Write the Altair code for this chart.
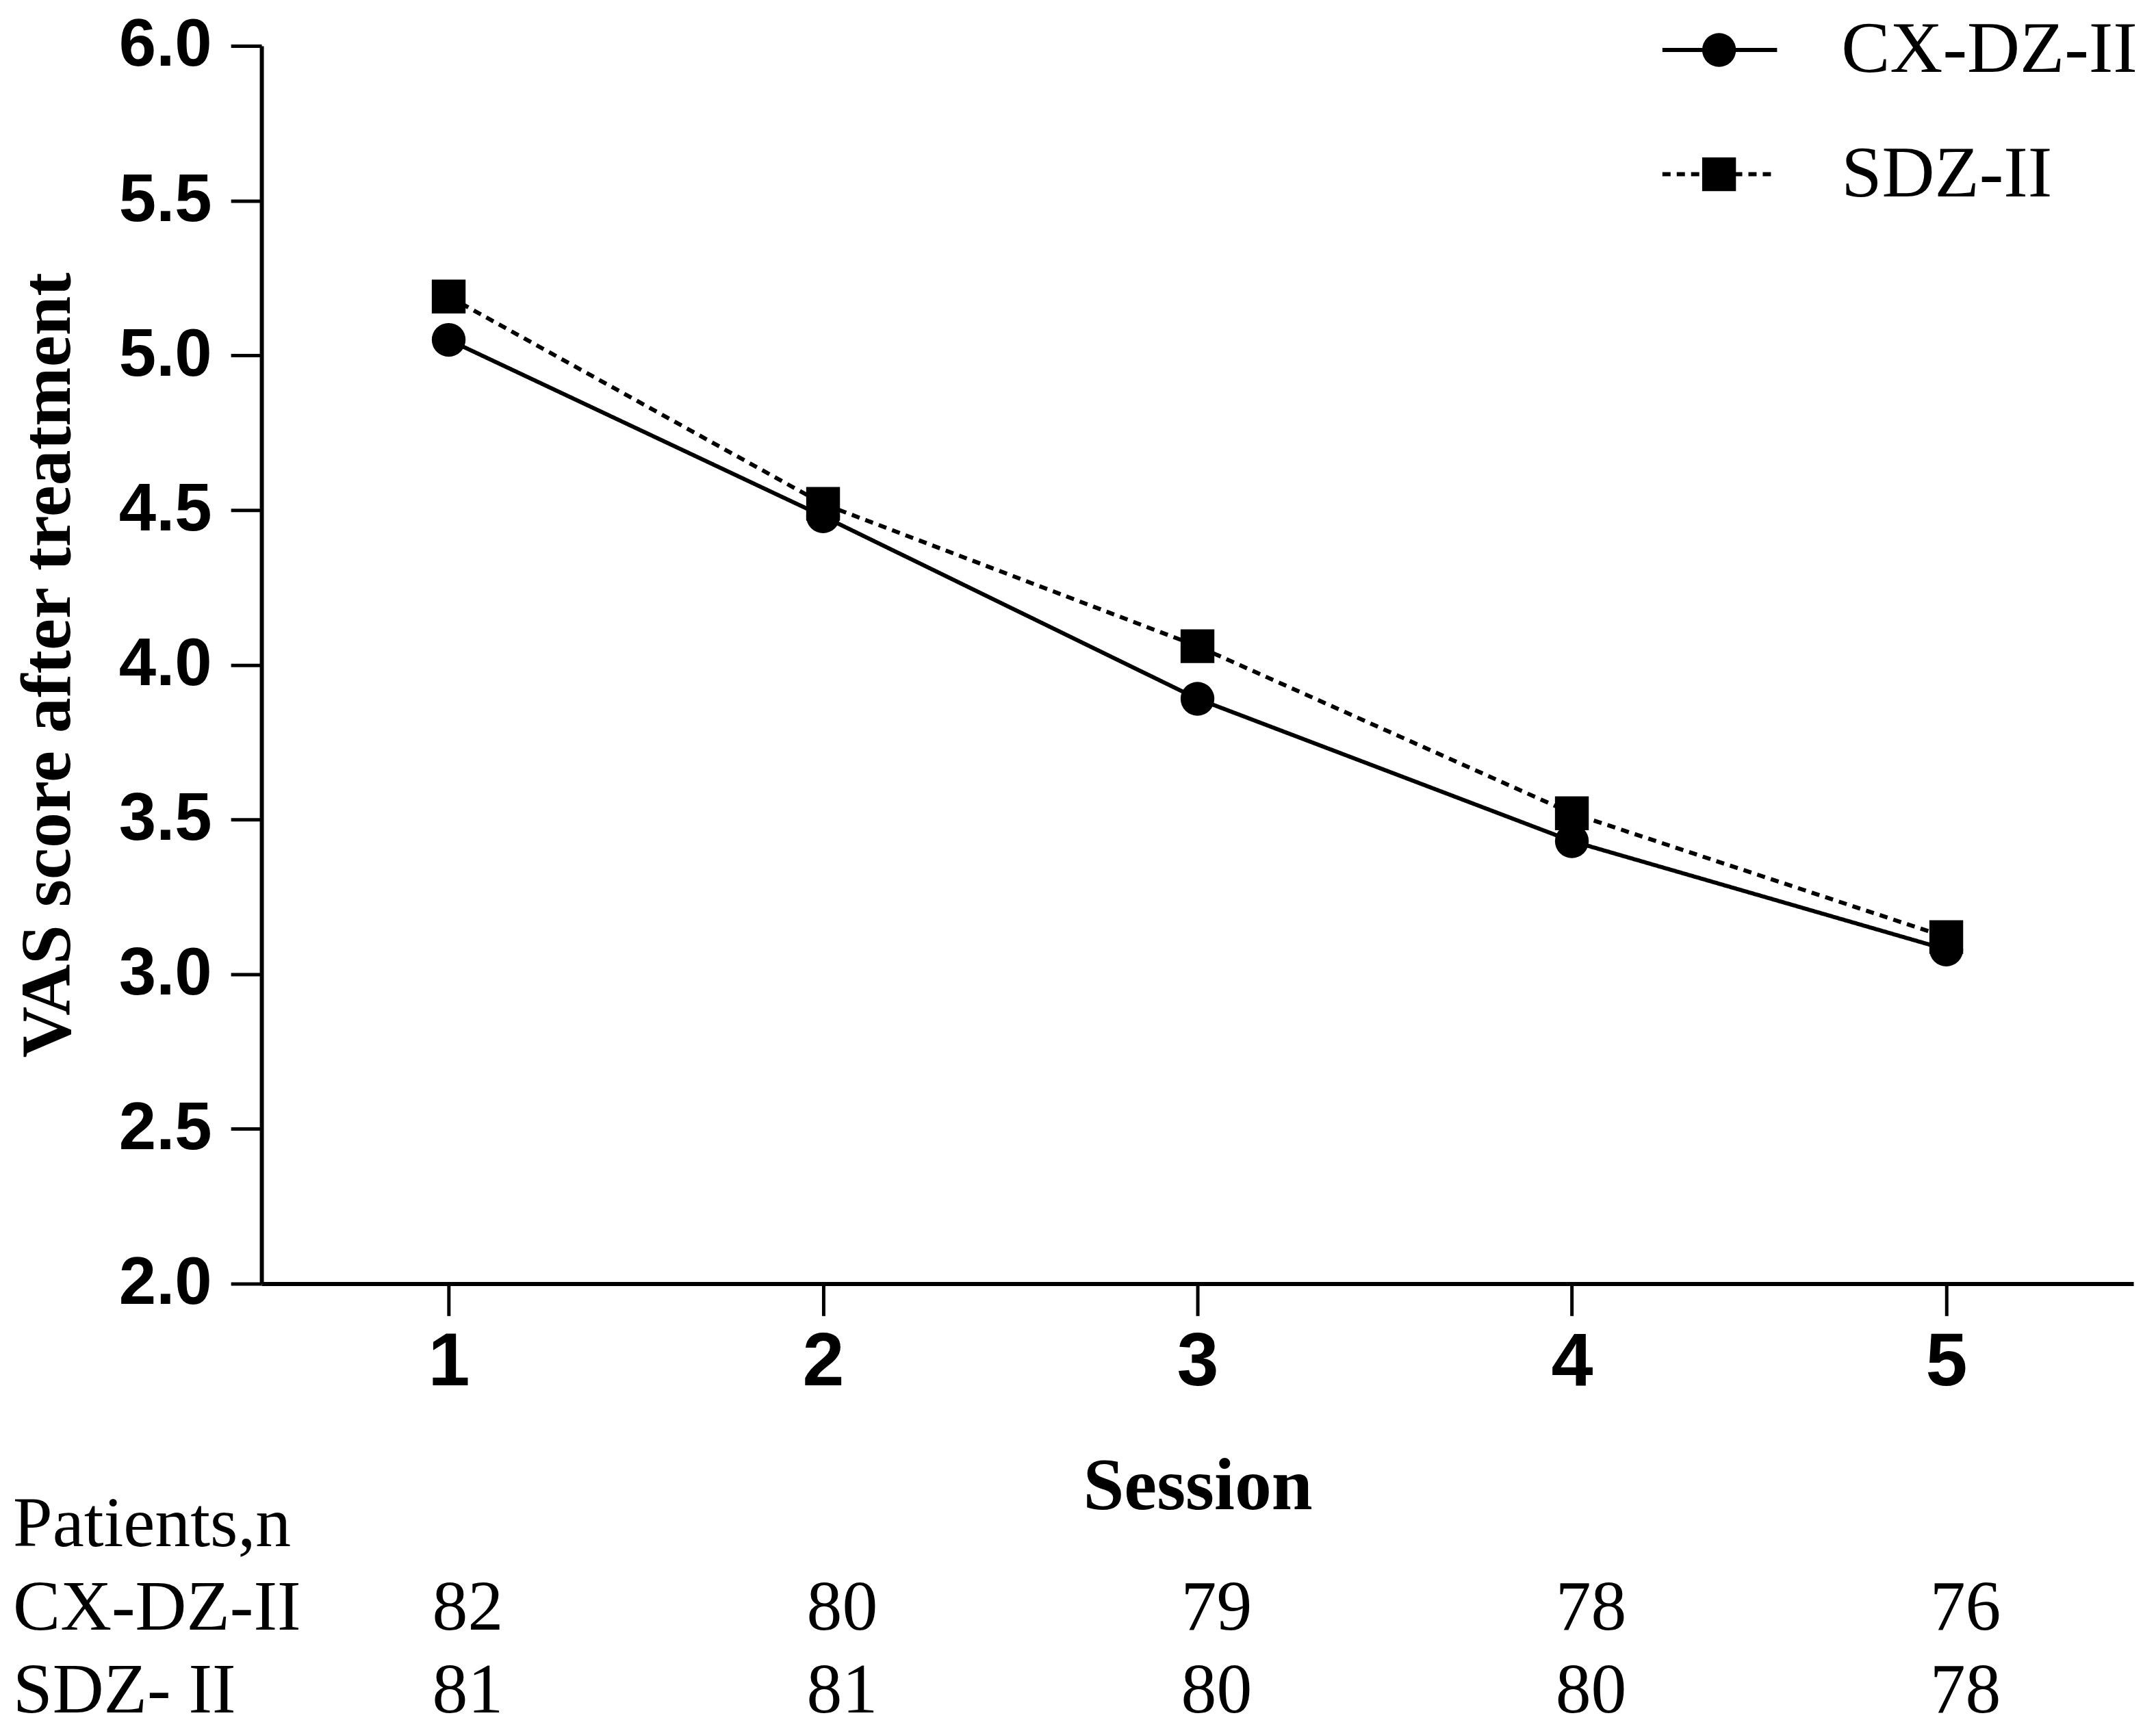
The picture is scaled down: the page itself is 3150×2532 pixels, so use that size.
import altair as alt
import pandas as pd

# ---- data ----
sessions = [1, 2, 3, 4, 5]
series_names = ["CX-DZ-II", "SDZ-II"]
cx_vas = [5.05, 4.48, 3.89, 3.43, 3.08]
sdz_vas = [5.19, 4.52, 4.06, 3.52, 3.12]

table_rows = ["Patients,n", "CX-DZ-II", "SDZ- II"]
cx_n = [82, 80, 79, 78, 76]
sdz_n = [81, 81, 80, 80, 78]

y_ticks = [2.0, 2.5, 3.0, 3.5, 4.0, 4.5, 5.0, 5.5, 6.0]

W, H = 2742, 1813

df = pd.DataFrame({
    "session": sessions * 2,
    "series": [series_names[0]] * 5 + [series_names[1]] * 5,
    "vas": cx_vas + sdz_vas,
})
leg_df = pd.DataFrame({"series": series_names})
tab_df = pd.DataFrame({
    "session": sessions * 2,
    "row": [table_rows[1]] * 5 + [table_rows[2]] * 5,
    "n": cx_n + sdz_n,
})
rowlab_df = pd.DataFrame({"row": table_rows})

x_scale = alt.Scale(domain=[0.5, 5.5])
y_scale = alt.Scale(domain=[2, 6])
dash_scale = alt.Scale(domain=series_names, range=[[1, 0], [12, 9]])
shape_scale = alt.Scale(domain=series_names, range=["circle", "square"])

x_axis = alt.Axis(
    values=sessions, format="d", grid=False, tickSize=47, tickWidth=5,
    tickColor="black", domainColor="black", domainWidth=6,
    labelFont="Liberation Sans", labelFontWeight="bold", labelFontSize=110,
    labelColor="black", labelPadding=14, labelOverlap=False,
    titleFont="Liberation Serif", titleFontWeight="bold", titleFontSize=108,
    titleColor="black", titleX=W / 2, titleY=330, titleBaseline="alphabetic",
)
y_axis = alt.Axis(
    values=y_ticks, format=".1f", grid=False, tickSize=45, tickWidth=5,
    tickColor="black", domainColor="black", domainWidth=6,
    labelFont="Liberation Sans", labelFontWeight="bold", labelFontSize=98,
    labelColor="black", labelPadding=28, labelOverlap=False,
    titleFont="Liberation Serif", titleFontWeight="bold", titleFontSize=104,
    titleColor="black", titleX=-312, titleY=H / 2, titleBaseline="middle",
    titleAngle=270,
)

x_enc = alt.X("session:Q", scale=x_scale, axis=x_axis, title="Session")
y_enc = alt.Y("vas:Q", scale=y_scale, axis=y_axis, title="VAS score after treatment")

base = alt.Chart(df)
lines = base.mark_line(color="black", strokeWidth=6).encode(
    x=x_enc, y=y_enc,
    strokeDash=alt.StrokeDash("series:N", scale=dash_scale, legend=None),
)
points = base.mark_point(filled=True, color="black", opacity=1, size=2450).encode(
    x=x_enc, y=y_enc,
    shape=alt.Shape("series:N", scale=shape_scale, legend=None),
)
main = alt.layer(lines, points)

# ---- legend (top right) ----
leg_y = alt.Y("series:N", scale=alt.Scale(type="point", domain=series_names,
                                          range=[6, 188], padding=0), axis=None)
leg_rule = alt.Chart(leg_df).mark_rule(color="black", strokeWidth=6).encode(
    x=alt.value(2052), x2=alt.value(2220), y=leg_y,
    strokeDash=alt.StrokeDash("series:N", scale=dash_scale, legend=None),
)
leg_pt = alt.Chart(leg_df).mark_point(filled=True, color="black", opacity=1, size=2450).encode(
    x=alt.value(2135), y=leg_y,
    shape=alt.Shape("series:N", scale=shape_scale, legend=None),
)
leg_txt = alt.Chart(leg_df).mark_text(
    align="left", baseline="middle", font="Liberation Serif", fontSize=107, color="black"
).encode(x=alt.value(2314), y=leg_y, text="series:N")
legend = alt.layer(leg_rule, leg_pt, leg_txt)

# ---- patients table below the axis ----
tab_y = alt.Y("row:N", scale=alt.Scale(type="point", domain=table_rows,
                                       range=[2198, 2441], padding=0), axis=None)
tab_nums = alt.Chart(tab_df).mark_text(
    align="center", baseline="alphabetic", dx=28, font="Liberation Serif",
    fontSize=104, color="black"
).encode(x=x_enc, y=tab_y, text="n:Q")
tab_labels = alt.Chart(rowlab_df).mark_text(
    align="left", baseline="alphabetic", font="Liberation Serif",
    fontSize=104, color="black"
).encode(x=alt.value(-364), y=tab_y, text="row:N")
table = alt.layer(tab_nums, tab_labels)

chart = alt.layer(main, legend, table).resolve_scale(y="independent").properties(
    width=W, height=H, autosize="none",
    padding={"left": 375, "top": 56, "right": 25, "bottom": 655},
    background="white",
).configure_view(stroke=None)

chart.save("out.html", embed_options={"renderer": "svg", "actions": False})
